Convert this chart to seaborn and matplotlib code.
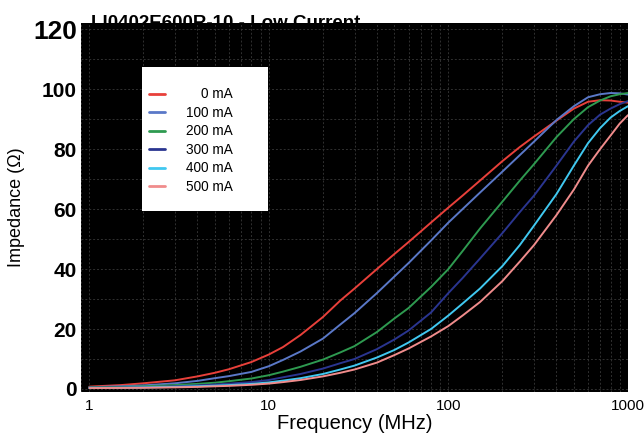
import matplotlib
matplotlib.use("Agg")
import matplotlib.pyplot as plt
import matplotlib.ticker as mticker
from matplotlib.patches import Rectangle
import seaborn as sns
import pandas as pd

# frequency points (MHz) and impedance (ohm) per bias current
freq = [1, 1.5, 2, 3, 4, 5, 6, 8, 10, 12, 15, 20, 25, 30, 40, 50, 60, 80, 100,
        120, 150, 200, 250, 300, 400, 500, 600, 700, 800, 900, 1000]
z_0ma = [0.8, 1.3, 1.9, 2.9, 4.2, 5.4, 6.6, 9.0, 11.5, 14, 18, 24, 29.5, 33.5, 40, 45,
         49, 55.5, 60.5, 64.5, 69.5, 76, 80.7, 84.2, 89.5, 93.5, 95.8, 96.3, 96.2, 95.8, 95.5]
z_100ma = [0.6, 0.9, 1.2, 1.9, 2.7, 3.6, 4.3, 5.7, 7.6, 9.7, 12.5, 16.8, 21.5, 25.3, 32,
           37.5, 42, 49.5, 55.5, 60, 65.5, 72.5, 78, 82.5, 89.7, 94.3, 97.3, 98.3, 98.7, 98.6, 98.2]
z_200ma = [0.5, 0.7, 0.9, 1.3, 1.7, 2.1, 2.6, 3.5, 4.6, 5.8, 7.4, 9.8, 12.2, 14.3, 19, 23.5,
           27, 34, 40, 46, 53.5, 62.5, 69.5, 75, 84, 90, 94, 96.2, 97.6, 98.3, 98.7]
z_300ma = [0.4, 0.5, 0.6, 0.9, 1.2, 1.5, 1.8, 2.3, 3.0, 3.9, 5.0, 6.8, 8.6, 10.0, 13.3, 16.5,
           19.5, 25.5, 32, 37, 43.5, 52, 59, 64.5, 74.5, 82.5, 88, 91.5, 93.5, 95, 96]
z_400ma = [0.3, 0.4, 0.5, 0.7, 0.9, 1.1, 1.3, 1.7, 2.2, 2.8, 3.6, 5.0, 6.5, 7.8, 10.5, 13,
           15.5, 20, 24.5, 28.5, 33.5, 41, 48, 54.5, 65, 74.5, 82, 87, 90.5, 92.7, 94.3]
z_500ma = [0.3, 0.35, 0.4, 0.55, 0.7, 0.9, 1.05, 1.4, 1.8, 2.3, 3.0, 4.2, 5.4, 6.5, 8.8, 11.3,
           13.5, 17.5, 21, 24.5, 29, 36, 42.5, 48, 58, 66.5, 74.5, 80, 84.5, 88.5, 91.3]

currents = ["0 mA", "100 mA", "200 mA", "300 mA", "400 mA", "500 mA"]
colors = ["#e8403a", "#5a78c8", "#2e9a50", "#2a3590", "#40c8f0", "#f08c8c"]
y_ticks = [0, 20, 40, 60, 80, 100, 120]
x_ticks = [1, 10, 100, 1000]

series = [z_0ma, z_100ma, z_200ma, z_300ma, z_400ma, z_500ma]
rows = []
for cur, vals in zip(currents, series):
    for f, z in zip(freq, vals):
        rows.append({"Frequency": f, "Impedance": z, "Current": cur})
df = pd.DataFrame(rows)

sns.set_style("white")
plt.rcParams["font.family"] = ["Liberation Sans", "DejaVu Sans"]
plt.rcParams["text.color"] = "black"
plt.rcParams["axes.labelcolor"] = "black"
plt.rcParams["xtick.color"] = "black"
plt.rcParams["ytick.color"] = "black"

fig = plt.figure(figsize=(6.44, 4.37), dpi=100)
ax = fig.add_axes([0.126, 0.103, 0.849, 0.844])
ax.set_facecolor("black")

# title sits behind the plot area, so its lower part is hidden like in the original
fig.text(0.142, 0.936, "LI0402E600R-10 - Low Current", fontsize=13.5,
         fontweight="bold", ha="left", va="baseline", zorder=-1)

sns.lineplot(data=df, x="Frequency", y="Impedance", hue="Current",
             palette=dict(zip(currents, colors)), linewidth=1.4, ax=ax, legend=False)

ax.set_xscale("log")
ax.set_xlim(0.9, 1000)
ax.set_ylim(-1, 122)
ax.set_xticks(x_ticks)
ax.xaxis.set_major_formatter(mticker.FuncFormatter(lambda v, p: f"{v:g}"))
ax.xaxis.set_minor_locator(mticker.LogLocator(subs=range(2, 10)))
ax.xaxis.set_minor_formatter(mticker.NullFormatter())
ax.set_yticks(y_ticks)
ax.yaxis.set_minor_locator(mticker.MultipleLocator(10))

ax.grid(True, which="both", color="#303030", linewidth=0.7, linestyle=(0, (2, 2)))
ax.set_axisbelow(True)
for s in ax.spines.values():
    s.set_visible(False)

ax.tick_params(axis="x", which="both", length=0, labelsize=11, pad=5)
ax.tick_params(axis="y", which="both", length=0, pad=3)
for lab in ax.get_yticklabels():
    lab.set_fontweight("bold")
    lab.set_fontsize(15)
ax.get_yticklabels()[-1].set_fontsize(19)

ax.set_xlabel("Frequency (MHz)", fontsize=14.5, labelpad=1)
ax.set_ylabel("Impedance (Ω)", fontsize=13, labelpad=6)

# white legend panel
ax.add_patch(Rectangle((0.112, 0.491), 0.230, 0.390, transform=ax.transAxes,
                       facecolor="white", edgecolor="none", zorder=5))
handles = [plt.Line2D([], [], color=c, linewidth=2) for c in colors]
labels = ["    " + currents[0]] + currents[1:]
leg = ax.legend(handles, labels, loc="upper left", bbox_to_anchor=(0.125, 0.826),
                frameon=False, fontsize=9.8, handlelength=1.15, handletextpad=1.5,
                labelspacing=0.33, borderpad=0, borderaxespad=0)
leg.set_zorder(6)

fig.savefig("out.png", dpi=100, facecolor="white")
